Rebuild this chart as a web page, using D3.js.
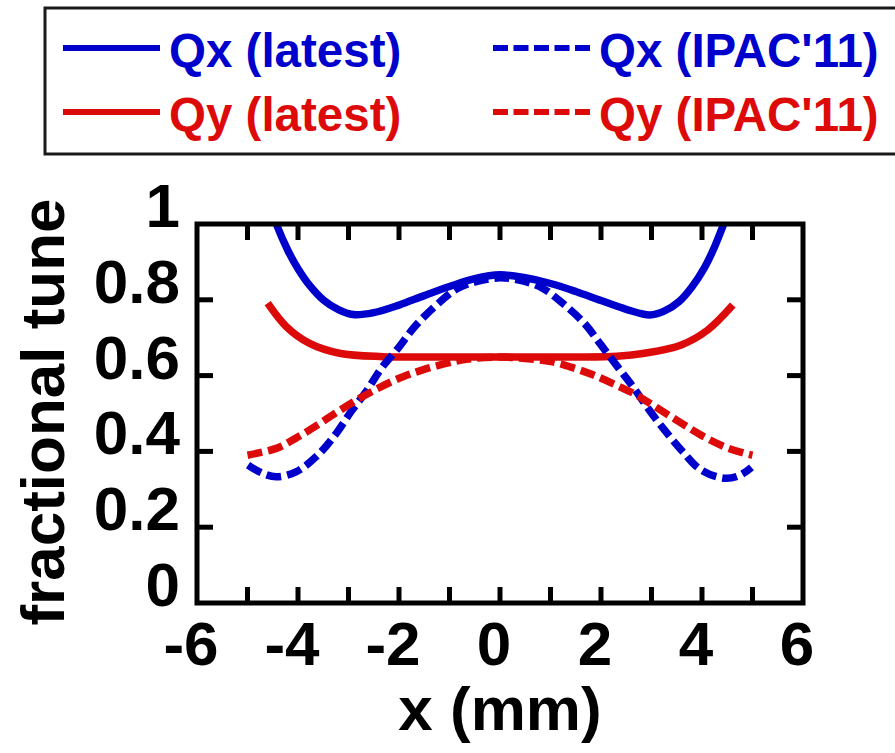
<!DOCTYPE html>
<html>
<head>
<meta charset="utf-8">
<script src="https://cdn.jsdelivr.net/npm/d3@7"></script>
<style>
  body { margin: 0; background: #fff; }
  svg { display: block; font-family: "Liberation Sans", Arial, sans-serif; font-weight: bold; }
</style>
</head>
<body>
<div id="chart"></div>
<script>
// values
const qxLatestX = [-4.56, -4.43, -4.2, -4.0, -3.77, -3.5, -3.2, -2.91, -2.5, -2.0, -1.5, -1.0, -0.5, 0.0, 0.5, 1.0, 1.5, 2.0, 2.5, 2.97, 3.25, 3.55, 3.8, 4.05, 4.25, 4.46, 4.58];
const qxLatestY = [1.05, 1.0, 0.93, 0.882, 0.838, 0.800, 0.774, 0.761, 0.766, 0.786, 0.811, 0.835, 0.856, 0.866, 0.858, 0.843, 0.822, 0.798, 0.775, 0.760, 0.770, 0.796, 0.834, 0.885, 0.94, 1.01, 1.05];

const qyLatestX = [-4.6, -4.23, -3.77, -3.18, -2.32, -1.5, -0.5, 0.5, 1.5, 2.32, 2.86, 3.59, 4.11, 4.61];
const qyLatestY = [0.791, 0.729, 0.685, 0.659, 0.650, 0.649, 0.649, 0.649, 0.649, 0.651, 0.659, 0.681, 0.720, 0.786];

const qxIpacX = [-4.99, -4.7, -4.43, -4.04, -3.61, -3.24, -2.95, -2.65, -2.35, -2.02, -1.69, -1.26, -0.84, -0.47, 0.0, 0.45, 0.85, 1.24, 1.67, 2.0, 2.33, 2.63, 2.93, 3.26, 3.62, 3.98, 4.45, 4.75, 4.98];
const qxIpacY = [0.364, 0.342, 0.333, 0.346, 0.390, 0.448, 0.505, 0.558, 0.619, 0.672, 0.729, 0.786, 0.830, 0.848, 0.858, 0.850, 0.830, 0.791, 0.738, 0.681, 0.623, 0.571, 0.514, 0.456, 0.399, 0.351, 0.329, 0.337, 0.358];

const qyIpacX = [-5.0, -4.43, -4.04, -3.61, -3.21, -2.78, -2.35, -1.92, -1.53, -1.07, -0.67, 0.0, 0.5, 1.01, 1.48, 1.84, 2.3, 2.7, 3.12, 3.55, 3.98, 4.45, 4.84, 5.0];
const qyIpacY = [0.390, 0.408, 0.435, 0.470, 0.505, 0.540, 0.571, 0.597, 0.615, 0.632, 0.643, 0.649, 0.645, 0.637, 0.619, 0.602, 0.575, 0.549, 0.514, 0.478, 0.443, 0.412, 0.395, 0.390];

const xTicks = [-6, -4, -2, 0, 2, 4, 6];
const xMinorTicks = [-5, -4, -3, -2, -1, 0, 1, 2, 3, 4, 5];
const yTicks = [0, 0.2, 0.4, 0.6, 0.8, 1];
const yInnerTicks = [0.2, 0.4, 0.6, 0.8];

const legendNames = ["Qx (latest)", "Qy (latest)", "Qx (IPAC'11)", "Qy (IPAC'11)"];

const blue = "#0000cc";
const red = "#dd0a0a";

const series = [
    {name: legendNames[0], xs: qxLatestX, ys: qxLatestY, color: blue, dashed: false},
    {name: legendNames[1], xs: qyLatestX, ys: qyLatestY, color: red, dashed: false},
    {name: legendNames[2], xs: qxIpacX, ys: qxIpacY, color: blue, dashed: true},
    {name: legendNames[3], xs: qyIpacX, ys: qyIpacY, color: red, dashed: true}
];

const W = 895, H = 753;
const plot = {left: 197, right: 803, top: 224, bottom: 603};

const svg = d3.select("#chart").append("svg")
    .attr("width", W)
    .attr("height", H);

const x = d3.scaleLinear().domain([-6, 6]).range([plot.left, plot.right]);
const y = d3.scaleLinear().domain([0, 1]).range([plot.bottom, plot.top]);

svg.append("clipPath").attr("id", "plotClip")
    .append("rect")
    .attr("x", plot.left).attr("y", plot.top)
    .attr("width", plot.right - plot.left).attr("height", plot.bottom - plot.top);

// curves
const line = d3.line()
    .x(d => x(d[0]))
    .y(d => y(d[1]))
    .curve(d3.curveCatmullRom);

const curves = svg.append("g").attr("clip-path", "url(#plotClip)");
curves.selectAll("path")
    .data(series)
    .enter()
    .append("path")
        .attr("d", s => line(s.xs.map((v, i) => [v, s.ys[i]])))
        .attr("fill", "none")
        .attr("stroke", s => s.color)
        .attr("stroke-width", 7.5)
        .attr("stroke-dasharray", s => s.dashed ? "15,6" : null);

// inward ticks on all four sides
const tickLen = 16;
const ticks = svg.append("g").attr("stroke", "#000").attr("stroke-width", 5);
xMinorTicks.forEach(v => {
    ticks.append("line").attr("x1", x(v)).attr("x2", x(v)).attr("y1", plot.bottom).attr("y2", plot.bottom - tickLen);
    ticks.append("line").attr("x1", x(v)).attr("x2", x(v)).attr("y1", plot.top).attr("y2", plot.top + tickLen);
});
yInnerTicks.forEach(v => {
    ticks.append("line").attr("x1", plot.left).attr("x2", plot.left + tickLen).attr("y1", y(v)).attr("y2", y(v));
    ticks.append("line").attr("x1", plot.right).attr("x2", plot.right - tickLen).attr("y1", y(v)).attr("y2", y(v));
});

// frame
svg.append("rect")
    .attr("x", plot.left).attr("y", plot.top)
    .attr("width", plot.right - plot.left).attr("height", plot.bottom - plot.top)
    .attr("fill", "none")
    .attr("stroke", "#000")
    .attr("stroke-width", 5);

// tick labels
svg.append("g").selectAll("text")
    .data(xTicks)
    .enter()
    .append("text")
        .attr("x", d => x(d) - 6)
        .attr("y", 665)
        .attr("text-anchor", "middle")
        .attr("font-size", 62)
        .text(d => d);

svg.append("g").selectAll("text")
    .data(yTicks)
    .enter()
    .append("text")
        .attr("x", 180)
        .attr("y", d => y(d) + 3)
        .attr("text-anchor", "end")
        .attr("font-size", 62)
        .text(d => d);

// axis titles
svg.append("text")
    .attr("x", 500)
    .attr("y", 730)
    .attr("text-anchor", "middle")
    .attr("font-size", 62)
    .text("x (mm)");

svg.append("text")
    .attr("transform", "translate(64,412) rotate(-90)")
    .attr("text-anchor", "middle")
    .attr("font-size", 62)
    .text("fractional tune");

// legend
svg.append("rect")
    .attr("x", 45).attr("y", 8)
    .attr("width", 900).attr("height", 146)
    .attr("fill", "none")
    .attr("stroke", "#1a1a1a")
    .attr("stroke-width", 3);

const legendPos = [[63, 48], [63, 112], [493, 48], [493, 112]];
series.forEach((s, i) => {
    const [lx, ly] = legendPos[i];
    svg.append("line")
        .attr("x1", lx).attr("x2", lx + 97)
        .attr("y1", ly).attr("y2", ly)
        .attr("stroke", s.color)
        .attr("stroke-width", 6)
        .attr("stroke-dasharray", s.dashed ? "15,5.5" : null);
    svg.append("text")
        .attr("x", lx + 106)
        .attr("y", ly + 19)
        .attr("font-size", 47.5)
        .attr("fill", s.color)
        .text(s.name);
});
</script>
</body>
</html>
